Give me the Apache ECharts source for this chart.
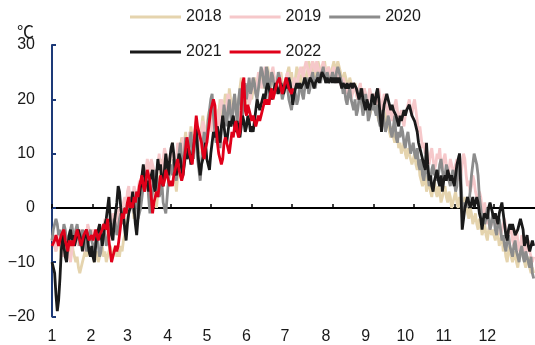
<!DOCTYPE html>
<html>
<head>
<meta charset="utf-8">
<script src="https://cdn.jsdelivr.net/npm/echarts@6/dist/echarts.min.js"></script>
<style>
  html, body { margin: 0; padding: 0; background: #fff; }
  #chart { width: 535px; height: 345px; }
</style>
</head>
<body>
<div id="chart"></div>
<script>
// Daily mean temperature (℃), one value per day of the year
const years = ['2018', '2019', '2020', '2021', '2022'];
const monthLabels = ['1', '2', '3', '4', '5', '6', '7', '8', '9', '10', '11', '12'];
const yTicks = [-20, -10, 0, 10, 20, 30];

const t2018 = [
  -6,-5,-7,-8,-6,-5,-7,-9,-8,-6,-5,-7,-8,-9,-7,-6,-8,-9,-10,-9,-11,-12,-11,-10,-9,-8,-9,-7,-8,-9,-8,
  -9,-10,-9,-8,-10,-9,-8,-7,-9,-8,-10,-9,-8,-7,-8,-9,-8,-7,-9,-8,-9,-7,-8,-6,-5,-3,-2,0,
  1,2,0,-2,1,3,2,4,5,3,6,4,7,5,3,6,8,7,5,2,0,3,5,7,9,6,8,10,7,5,8,
  10,12,8,5,3,6,9,11,13,10,12,14,11,9,12,15,13,11,14,16,12,10,13,15,17,14,12,15,17,18,
  16,14,17,19,18,15,17,20,18,16,19,21,20,18,22,20,17,19,21,18,16,19,22,24,21,19,18,20,22,23,21,
  20,22,24,23,21,22,24,25,23,22,24,25,26,24,22,23,25,24,22,21,23,24,25,23,21,22,24,25,26,24,
  25,23,22,24,26,25,24,23,25,26,24,23,25,27,26,25,27,26,24,25,27,26,25,24,26,27,25,24,26,25,24,
  26,27,25,26,27,26,25,24,23,25,24,23,22,24,23,21,22,23,21,20,22,21,19,20,22,20,18,19,17,18,19,
  19,18,20,17,16,18,19,17,15,16,18,16,14,13,15,13,12,14,13,11,12,10,11,12,10,9,11,10,9,8,
  9,10,8,7,9,6,5,4,5,6,3,4,5,3,2,4,5,3,2,4,3,1,2,3,4,2,1,3,2,0,1,
  2,3,1,0,2,1,-1,0,2,1,-1,-2,0,-1,-3,-2,-1,-3,-4,-2,-3,-5,-4,-3,-5,-6,-4,-3,-5,-4,
  -5,-6,-4,-5,-7,-6,-5,-8,-7,-9,-10,-8,-7,-9,-10,-9,-8,-10,-11,-9,-8,-7,-9,-10,-11,-10,-9,-11,-12,-11,-12
];

const t2019 = [
  -6,-5,-7,-8,-6,-4,-5,-7,-9,-8,-6,-5,-7,-9,-10,-8,-6,-5,-4,-6,-7,-5,-4,-6,-8,-7,-5,-3,-4,-6,-5,
  -4,-5,-7,-6,-4,-3,-5,-6,-4,-2,-3,-5,-6,-4,-3,-1,-2,-4,-3,-1,0,-2,-1,1,2,0,3,4,
  1,3,2,4,3,1,3,5,4,6,7,5,7,9,8,6,9,8,7,5,6,8,10,7,6,9,11,10,8,7,9,
  11,10,8,7,9,12,10,8,11,13,12,10,9,11,14,13,12,10,13,15,14,12,11,14,16,15,13,12,15,17,
  16,14,17,19,18,16,15,18,20,19,17,16,19,21,20,18,17,19,20,18,16,19,21,20,19,18,20,22,21,19,20,
  23,24,22,21,23,25,24,22,23,24,26,25,23,22,24,25,26,24,23,22,24,25,23,22,21,23,24,25,23,22,
  21,22,24,23,22,24,25,26,25,24,26,27,26,25,24,26,27,26,25,27,26,25,24,26,27,26,24,25,26,25,24,
  25,26,24,23,25,24,23,22,24,23,22,21,23,22,20,21,23,22,21,20,22,23,21,20,22,21,19,20,22,21,20,
  21,20,19,21,22,20,18,19,21,20,18,17,19,18,16,17,19,20,18,16,17,18,16,15,17,18,19,20,18,17,
  19,20,18,16,14,15,13,11,12,10,11,9,8,10,11,9,7,8,10,9,11,8,7,9,10,8,6,7,9,8,7,
  6,8,9,7,5,6,8,10,9,6,4,5,3,4,6,5,3,2,1,3,2,0,-1,1,-1,-3,-2,-4,-3,-2,
  -1,-3,-4,-2,-3,-5,-4,-3,-2,-4,-6,-5,-3,-4,-6,-7,-5,-4,-6,-8,-7,-5,-6,-8,-9,-7,-6,-8,-9,-10,-9
];

const t2020 = [
  -6,-4,-3,-2,-3,-5,-4,-6,-5,-3,-4,-6,-7,-5,-4,-3,-5,-6,-4,-3,-5,-7,-6,-4,-5,-6,-8,-7,-5,-4,-6,
  -7,-8,-6,-5,-7,-9,-8,-6,-4,-5,-7,-6,-4,-3,-5,-4,-2,-3,-5,-4,-2,-1,-3,-2,0,-1,1,0,
  1,2,0,-1,1,3,-2,-1,0,2,4,3,5,6,2,-1,1,3,5,7,6,4,2,3,5,1,0,-1,2,5,7,
  8,6,9,7,5,8,10,12,9,7,10,13,11,9,12,14,11,9,13,15,9,7,5,8,12,14,11,13,16,18,
  20,21,17,14,12,15,13,11,14,16,19,17,15,18,20,17,15,19,21,18,16,20,22,19,17,21,23,20,22,24,21,
  22,24,23,21,20,22,24,26,25,23,22,26,25,20,23,25,24,22,21,23,25,24,22,20,21,23,24,22,20,19,
  18,20,22,21,19,20,22,23,21,20,22,24,23,21,22,24,25,23,22,24,25,24,23,25,26,24,23,25,24,23,24,
  25,24,23,25,26,25,24,23,21,22,20,19,21,22,20,19,18,20,17,18,20,22,19,17,18,21,19,16,17,19,18,
  20,18,17,19,16,15,17,18,16,14,15,17,16,14,13,15,17,13,12,14,13,15,14,12,11,13,14,12,10,11,
  12,10,9,11,8,7,9,6,5,7,8,6,4,5,7,8,6,7,5,6,8,9,7,5,6,8,7,5,4,6,7,
  5,3,4,8,10,6,0,-1,1,0,2,1,3,6,8,10,9,8,6,2,0,-2,-1,-3,-2,0,-2,-4,-3,-1,
  -2,-4,-5,-3,-2,-4,-6,-5,-7,-8,-6,-5,-7,-8,-9,-7,-6,-8,-9,-10,-8,-7,-9,-10,-8,-9,-10,-11,-9,-12,-13
];

const t2021 = [
  -10,-11,-12,-16,-19,-17,-13,-8,-5,-7,-9,-10,-7,-5,-4,-6,-5,-7,-6,-5,-4,-4,-6,-8,-6,-5,-4,-6,-8,-9,-7,
  -9,-10,-7,-5,-4,-3,-5,-7,-5,-3,-2,0,2,-2,-5,-6,-3,-1,1,4,3,0,-2,-1,-4,-6,-3,-1,
  -1,1,3,0,-3,-5,-2,2,4,6,8,6,4,5,3,5,6,7,4,3,6,9,7,8,5,4,7,10,8,6,9,
  11,12,10,7,6,8,10,9,7,6,8,10,9,11,10,8,8,11,13,15,11,8,6,8,9,10,12,9,8,7,
  10,12,14,13,14,15,13,12,15,17,15,13,12,14,16,15,16,17,15,14,16,14,13,15,17,16,14,15,17,16,14,
  15,14,16,18,20,19,18,19,20,21,20,22,23,22,21,20,21,22,23,22,21,22,23,22,21,22,23,22,24,23,
  21,19,21,22,23,22,23,22,22,23,24,23,22,23,24,24,23,22,23,23,24,23,24,25,25,24,23,24,23,23,24,
  23,24,23,24,23,24,23,22,23,23,22,23,22,22,23,22,23,23,22,21,20,21,22,20,20,18,20,19,18,19,21,
  20,19,21,22,20,17,14,17,19,20,21,20,20,18,19,18,18,17,16,15,17,16,17,18,17,18,18,19,18,17,
  17,16,15,14,12,11,11,9,8,7,12,8,5,6,4,3,5,6,7,5,4,6,3,5,6,5,7,7,5,6,5,
  4,6,8,9,10,3,-4,-2,0,1,2,1,0,1,2,0,1,2,1,-1,-2,-4,-2,-1,-1,-2,0,1,1,-1,
  -2,-1,-2,-3,-1,0,1,-1,-3,-5,-6,-4,-3,-4,-3,-4,-5,-5,-4,-3,-2,-2,-4,-7,-6,-5,-7,-8,-7,-6,-7
];

const t2022 = [
  -7,-7,-6,-5,-6,-7,-6,-5,-5,-4,-6,-7,-8,-6,-7,-6,-7,-6,-5,-4,-5,-6,-7,-6,-5,-5,-4,-5,-6,-6,-5,
  -6,-5,-4,-5,-6,-5,-5,-4,-3,-3,-4,-2,-6,-8,-10,-9,-8,-7,-8,-7,-5,-3,-1,-2,0,-1,1,2,
  0,1,0,2,1,3,2,4,5,6,4,3,5,7,6,5,2,-1,1,2,3,2,4,6,5,4,5,7,7,5,4,
  5,4,6,7,8,9,7,6,5,6,9,11,13,13,10,9,8,11,14,17,15,14,13,12,10,9,11,12,14,16,
  18,19,20,19,15,12,10,9,8,9,12,13,12,11,10,12,14,13,15,16,14,13,14,18,23,24,18,17,19,18,17,
  16,17,16,15,16,17,16,17,18,19,20,19,20,19,21,22,20,21,22,23,23,24,22,21,22,23,24,23,22,22,
  21,22
];

const seriesValues = [t2018, t2019, t2020, t2021, t2022];
const colors = ['#E5D4AE', '#F6C8CA', '#8C8C8C', '#1A1A1A', '#E0001A'];

// first day of each month (day-of-year index) for tick marks
const monthStarts = [0, 31, 59, 90, 120, 151, 181, 212, 243, 273, 304, 334];
// label anchors along the bottom edge
const labelAnchors = [0, 29.5, 57, 87.5, 117, 147, 176, 207, 237, 267, 296, 329];

const FONT = 'Liberation Sans, Arial, sans-serif';
const chart = echarts.init(document.getElementById('chart'), null, { renderer: 'canvas' });

const legendCommon = {
  left: 130,
  padding: 0,
  icon: 'rect',
  itemWidth: 51,
  itemHeight: 3,
  itemGap: 8,
  textStyle: { fontFamily: FONT, fontSize: 16, color: '#1a1a1a' }
};

chart.setOption({
  animation: false,
  backgroundColor: '#ffffff',
  grid: { left: 52, right: 0, top: 45, bottom: 28.5, containLabel: false, outerBoundsMode: 'none' },
  legend: [
    Object.assign({ top: 9, data: years.slice(0, 3) }, legendCommon),
    Object.assign({ top: 44, data: years.slice(3) }, legendCommon)
  ],
  graphic: [{
    type: 'text', x: 17, y: 40,
    style: { text: '℃', fontFamily: 'Noto Sans CJK SC, DejaVu Sans, sans-serif', fontSize: 17,
             fill: '#1a1a1a', align: 'left', verticalAlign: 'bottom' }
  }],
  xAxis: [
    {
      type: 'value', min: 0, max: 365,
      axisLine: { onZero: true, lineStyle: { color: '#000', width: 2 } },
      axisTick: { show: true, inside: true, length: 4, customValues: monthStarts,
                  lineStyle: { color: '#000', width: 1.5 } },
      axisLabel: { show: false },
      splitLine: { show: false }
    },
    {
      type: 'value', min: 0, max: 365, position: 'bottom',
      axisLine: { show: false, onZero: false },
      axisTick: { show: false },
      axisLabel: {
        show: true, margin: 12, customValues: labelAnchors,
        fontFamily: FONT, fontSize: 16, color: '#1a1a1a',
        formatter: v => {
          const i = labelAnchors.indexOf(v);
          return i >= 0 ? monthLabels[i] : '';
        }
      },
      splitLine: { show: false }
    }
  ],
  yAxis: {
    type: 'value', min: yTicks[0], max: yTicks[yTicks.length - 1], interval: 10,
    axisLine: { show: true, onZero: false, lineStyle: { color: '#1D3A78', width: 2 } },
    axisTick: { show: true, inside: true, length: 4, lineStyle: { color: '#1D3A78', width: 2 } },
    axisLabel: {
      margin: 17, fontFamily: FONT, fontSize: 16, color: '#1a1a1a',
      formatter: v => (v < 0 ? '\u2212' + Math.abs(v) : String(v))
    },
    splitLine: { show: false }
  },
  series: years.map((name, k) => ({
    name,
    type: 'line',
    xAxisIndex: 0,
    showSymbol: false,
    symbol: 'none',
    color: colors[k],
    lineStyle: { width: 2.8, color: colors[k] },
    data: seriesValues[k].map((v, i) => [i, v])
  }))
});
</script>
</body>
</html>
